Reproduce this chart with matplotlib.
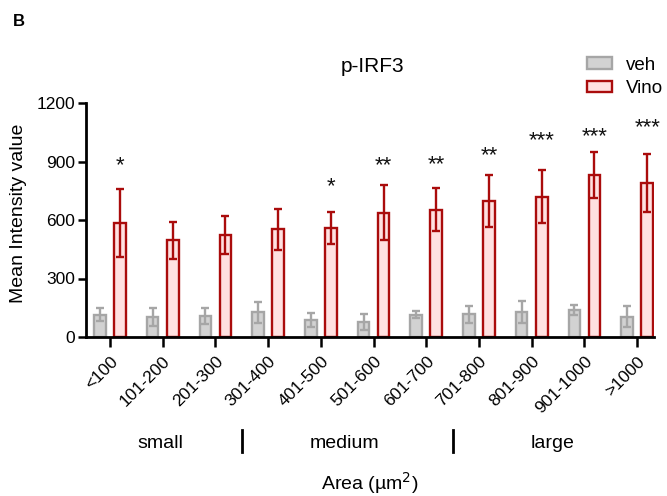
import matplotlib
matplotlib.use("Agg")
import matplotlib.pyplot as plt
import matplotlib.transforms as mtransforms
import numpy as np

plt.rcParams['font.family'] = ['Liberation Sans', 'DejaVu Sans']

categories = ['<100', '101-200', '201-300', '301-400', '401-500', '501-600',
              '601-700', '701-800', '801-900', '901-1000', '>1000']
veh_mean = [115, 103, 108, 127, 87, 78, 115, 117, 128, 140, 105]
veh_sem = [35, 45, 42, 55, 35, 42, 20, 43, 55, 25, 53]
vino_mean = [585, 495, 523, 552, 560, 637, 652, 697, 720, 830, 790]
vino_sem = [175, 97, 95, 105, 82, 140, 110, 135, 135, 118, 147]
stars = ['*', '', '', '', '*', '**', '**', '**', '***', '***', '***']
star_y = [913, 0, 0, 0, 805, 913, 918, 964, 1041, 1062, 1108]
groups = ['small', 'medium', 'large']
group_x = [0.95, 4.44, 8.39]
group_sep = [2.5, 6.5]
yticks = [0, 300, 600, 900, 1200]

veh_face, veh_edge = '#d2d2d2', '#a6a6a6'
vino_face, vino_edge = '#ffe1e1', '#aa0c0c'

fig = plt.figure(figsize=(6.67, 4.96), dpi=100)
ax = fig.add_axes([86/667, 1-337/496, (654-86)/667, (337-103)/496])

x = np.arange(len(categories))
w = 0.22
off = 0.19
ax.bar(x - off, veh_mean, w, color=veh_face, edgecolor=veh_edge, linewidth=1.7,
       label='veh', zorder=2)
ax.bar(x + off, vino_mean, w, color=vino_face, edgecolor=vino_edge, linewidth=1.7,
       label='Vino', zorder=2)
ax.errorbar(x - off, veh_mean, yerr=veh_sem, fmt='none', ecolor=veh_edge,
            elinewidth=1.7, capsize=3.2, capthick=1.7, zorder=3)
ax.errorbar(x + off, vino_mean, yerr=vino_sem, fmt='none', ecolor=vino_edge,
            elinewidth=1.7, capsize=3.2, capthick=1.7, zorder=3)

for xi, s, sy in zip(x, stars, star_y):
    if s:
        ax.text(xi + off, sy - 62, s, ha='center', va='baseline', fontsize=16,
                color='#111111')

ax.set_xlim(-0.455, 10.32)
ax.set_ylim(0, 1200)
ax.set_yticks(yticks)
ax.set_xticks(x)
ax.set_xticklabels(categories, rotation=45, ha='right', va='top',
                   rotation_mode='anchor', fontsize=12.5)
ax.tick_params(axis='y', labelsize=12.5, length=6, width=1.8, direction='out', pad=2)
ax.tick_params(axis='x', length=7, width=1.8, direction='out', pad=5)
for sp in ['top', 'right']:
    ax.spines[sp].set_visible(False)
for sp in ['left', 'bottom']:
    ax.spines[sp].set_linewidth(2)

ax.set_ylabel('Mean Intensity value', fontsize=14)
ax.yaxis.set_label_coords(-0.118, 0.53)
ax.yaxis.label.set_va('center')
ax.set_xlabel('Area (µm$^2$)', fontsize=14)
ax.xaxis.set_label_coords(0.5, -0.624)
ax.xaxis.label.set_va('center')

ax.text(0.504, 1.154, 'p-IRF3', transform=ax.transAxes, ha='center', va='center',
        fontsize=15)

trans = mtransforms.blended_transform_factory(ax.transData, ax.transAxes)
for g, gx in zip(groups, group_x):
    ax.text(gx, -0.453, g, transform=trans, ha='center', va='center', fontsize=14)
for sx in group_sep:
    ax.plot([sx, sx], [-0.397, -0.491], transform=trans, color='black', lw=2,
            clip_on=False)

leg = ax.legend(loc='upper left', bbox_to_anchor=(583/667, 1-53/496),
                bbox_transform=fig.transFigure, frameon=False, fontsize=13.5,
                handlelength=1.35, handleheight=0.55, labelspacing=0.35,
                handletextpad=0.75, borderaxespad=0, borderpad=0.2)

fig.text(13/667, 1-21/496, 'B', fontsize=12, fontweight='bold', ha='left', va='center')

fig.savefig('out.png', dpi=100)
